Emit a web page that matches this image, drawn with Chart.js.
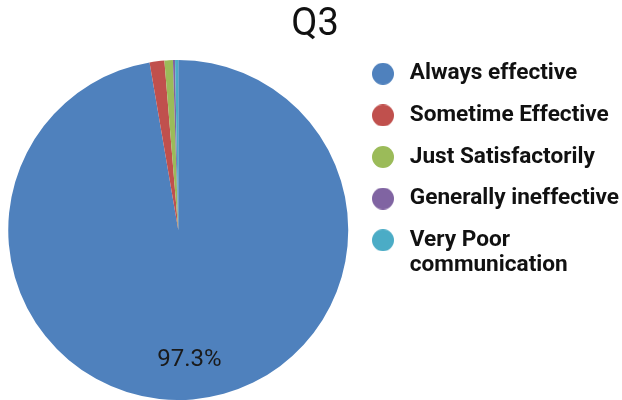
<!DOCTYPE html>
<html>
<head>
<meta charset="utf-8">
<script src="https://cdn.jsdelivr.net/npm/chart.js@4.4.0/dist/chart.umd.min.js"></script>
<style>
  html, body { margin: 0; padding: 0; background: #fff; }
  #wrap { width: 622px; height: 400px; }
</style>
</head>
<body>
<div id="wrap"><canvas id="myChart" width="622" height="400"></canvas></div>
<script>
// valores
const categorias = ["Always effective", "Sometime Effective", "Just Satisfactorily", "Generally ineffective", ["Very Poor", "communication"]];
const porcentajes = [97.3, 1.4, 0.8, 0.2, 0.3];
const colores = ["#4F81BD", "#C0504D", "#9BBB59", "#8064A2", "#4BACC6"];
const tituloGrafico = "Q3";

// circulos de la leyenda (imagen para poder separar el texto)
const circulo = (color) => {
    const c = document.createElement("canvas");
    c.width = 22;
    c.height = 22;
    const g = c.getContext("2d");
    g.fillStyle = color;
    g.beginPath();
    g.arc(11, 11, 11, 0, Math.PI * 2);
    g.fill();
    return c;
};
const circulos = colores.map(circulo);

// etiqueta solo para la porcion grande
const etiquetaPorcion = {
    id: "etiquetaPorcion",
    afterDatasetsDraw(chart) {
        const ctx = chart.ctx;
        const arc = chart.getDatasetMeta(0).data[0];
        const props = arc.getProps(["x", "y", "startAngle", "endAngle", "outerRadius"], true);
        const mid = (props.startAngle + props.endAngle) / 2;
        const r = props.outerRadius * 0.77;
        ctx.save();
        ctx.font = "24px Roboto";
        ctx.fillStyle = "#1a1a1a";
        ctx.textAlign = "center";
        ctx.textBaseline = "middle";
        ctx.fillText(porcentajes[0].toFixed(1) + "%", props.x + Math.cos(mid) * r, props.y + Math.sin(mid) * r);
        ctx.restore();
    }
};

const data = {
    labels: categorias,
    datasets: [{
        data: porcentajes,
        backgroundColor: colores,
        borderWidth: 0,
        radius: 170
    }]
};

const options = {
    responsive: false,
    animation: false,
    events: [],
    layout: { padding: { left: 8 } },
    plugins: {
        title: {
            display: true,
            text: tituloGrafico,
            color: "#111",
            font: { family: "Roboto", size: 38, weight: "normal", lineHeight: 1 },
            padding: { top: 6, bottom: 16 }
        },
        legend: {
            position: "right",
            align: "start",
            fullSize: true,
            maxWidth: 273.5,
            title: {
                display: true,
                text: "",
                font: { size: 10, lineHeight: 1 },
                padding: { top: 33.5, bottom: 0 }
            },
            labels: {
                usePointStyle: true,
                pointStyleWidth: 31,
                boxHeight: 15.5,
                padding: 19,
                color: "#111",
                font: { family: "Roboto", size: 22.6, weight: "bold", lineHeight: 1.1 },
                generateLabels(chart) {
                    const items = Chart.DoughnutController.overrides.plugins.legend.labels.generateLabels(chart);
                    items.forEach((it, i) => { it.pointStyle = circulos[i]; });
                    return items;
                }
            }
        },
        tooltip: { enabled: false }
    }
};

new Chart("myChart", { type: "pie", data, options, plugins: [etiquetaPorcion] });
</script>
</body>
</html>
